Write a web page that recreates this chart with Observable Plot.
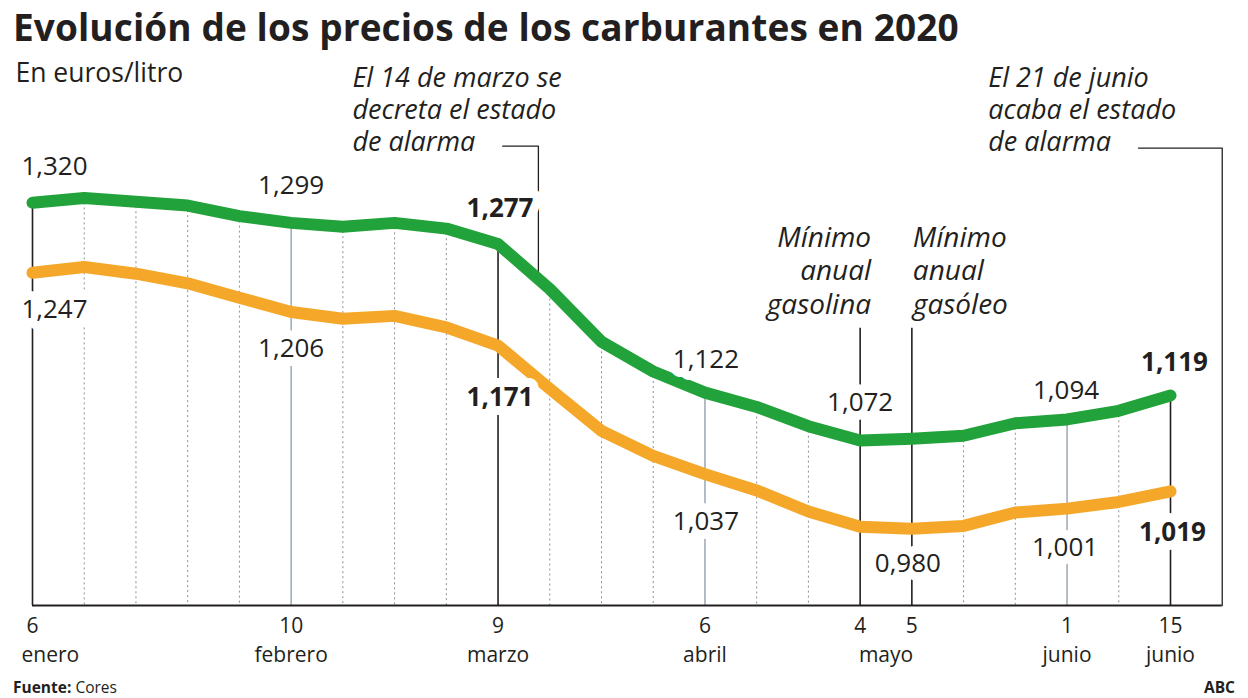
<!DOCTYPE html>
<html><head><meta charset="utf-8">
<script src="https://cdn.jsdelivr.net/npm/d3@7"></script>
<script src="https://cdn.jsdelivr.net/npm/@observablehq/plot@0.6"></script>
<style>
body{margin:0;background:#fff;font-family:"Open Sans",sans-serif;color:#231f20;width:1248px;height:698px;overflow:hidden}
#title{height:50px;line-height:54px;padding-left:13px;font-weight:700;font-size:37px;white-space:nowrap;letter-spacing:0.1px}
#chart svg{display:block}
#foot{position:relative;height:23px;font-size:15.5px}
#foot .l{position:absolute;left:13px;top:1px}
#foot .r{position:absolute;right:13px;top:1px;font-weight:700}
</style></head><body>
<div id="title">Evolución de los precios de los carburantes en 2020</div>
<div id="chart"></div>
<div id="foot"><span class="l"><b>Fuente:</b> Cores</span><span class="r">ABC</span></div>
<script>
// Semanas (índice de observación semanal, 6 enero – 15 junio 2020)
const semanas = [0,1,2,3,4,5,6,7,8,9,10,11,12,13,14,15,16,17,18,19,20,21,22];
const gasolina = [1.320,1.325,1.321,1.317,1.306,1.299,1.295,1.299,1.293,1.277,1.230,1.175,1.144,1.122,1.107,1.087,1.072,1.074,1.077,1.090,1.094,1.103,1.119];
const gasoleo  = [1.247,1.253,1.246,1.236,1.221,1.206,1.199,1.202,1.190,1.171,1.126,1.082,1.056,1.037,1.020,0.998,0.982,0.980,0.983,0.997,1.001,1.008,1.019];
const tickIdx  = [0,5,9,13,16,17,20,22];
const tickDias = ["6","10","9","6","4","5","1","15"];
const mesesPos = [0,5,9,13,16.5,20,22];
const meses    = ["enero","febrero","marzo","abril","mayo","junio","junio"];
const lineasNegras = [0,9,16,17,22];
const lineasGrises = [5,13,20];

const VERDE = "#22a23a", NARANJA = "#f5a72a", TXT = "#231f20", GRIS = "#a3adb7";
const yMin = 0.9;
const fmt = v => d3.format(".3f")(v).replace(".", ",");

// annotation anchors (layout)
const xMarzo14 = 9.78, xJunio21 = 23, yConector = 1.379, yMinimoTop = 1.189;
const greenAt = x => { const i = Math.floor(x); return gasolina[i] + (x - i) * (gasolina[i+1] - gasolina[i]); };

const verde = semanas.map(i => ({i, v: gasolina[i]}));
const naranja = semanas.map(i => ({i, v: gasoleo[i]}));

const punteadas = semanas.filter(i => !tickIdx.includes(i)).map(i => ({i, top: gasolina[i]}));
const negras = lineasNegras.map(i => ({i, top: (i === 16 || i === 17) ? yMinimoTop : gasolina[i]}));
const grises = lineasGrises.map(i => ({i, top: gasolina[i]}));

// value labels: index, series, offsets (style)
const etiquetas = [
  {i:0,  s:"g", dx:22, dy:-36, b:false},
  {i:0,  s:"o", dx:22, dy:37,  b:false},
  {i:5,  s:"g", dx:0,  dy:-37, b:false},
  {i:5,  s:"o", dx:0,  dy:37,  b:false},
  {i:9,  s:"g", dx:2,  dy:-35, b:true},
  {i:9,  s:"o", dx:2,  dy:52,  b:true},
  {i:13, s:"g", dx:1,  dy:-33, b:false},
  {i:13, s:"o", dx:1,  dy:48,  b:false},
  {i:16, s:"g", dx:0,  dy:-38, b:false},
  {i:17, s:"o", dx:-4, dy:35,  b:false},
  {i:20, s:"g", dx:-1, dy:-29, b:false},
  {i:20, s:"o", dx:-2, dy:39,  b:false},
  {i:22, s:"g", dx:4,  dy:-33, b:true},
  {i:22, s:"o", dx:2,  dy:41,  b:true}
].map(d => ({...d, v: d.s === "g" ? gasolina[d.i] : gasoleo[d.i]}));

const etiquetaMark = (bold) => etiquetas.filter(d => d.b === bold).map(d =>
  Plot.text([d], {x: "i", y: "v", text: e => fmt(e.v), dx: d.dx, dy: d.dy,
    fontSize: 26, fontWeight: bold ? 700 : 400, fill: TXT,
    stroke: "white", strokeWidth: 18, paintOrder: "stroke", lineAnchor: "middle"}));

const mesesData = meses.map((m, k) => ({x: mesesPos[k], m}));

const H = 625, baseY = 555;
const chart = Plot.plot({
  width: 1248, height: H,
  marginLeft: 32, marginRight: 78, marginTop: 0, marginBottom: H - baseY,
  style: {fontFamily: "'Open Sans', sans-serif", color: TXT, background: "#fff"},
  x: {domain: [0, 22], axis: null},
  y: {domain: [yMin, yMin + baseY / 959], axis: null},
  marks: [
    Plot.ruleX(punteadas, {x: "i", y1: "top", y2: yMin, stroke: "#8a8f94", strokeWidth: 1, strokeDasharray: "2,3"}),
    Plot.ruleX(grises, {x: "i", y1: "top", y2: yMin, stroke: GRIS, strokeWidth: 1.6}),
    Plot.ruleX(negras, {x: "i", y1: "top", y2: yMin, stroke: TXT, strokeWidth: 1.6}),
    Plot.line([{x: 9.09, y: yConector}, {x: xMarzo14, y: yConector}, {x: xMarzo14, y: greenAt(xMarzo14)}],
      {x: "x", y: "y", stroke: TXT, strokeWidth: 1.3}),
    Plot.line([{x: 21.38, y: yConector - 0.002}, {x: xJunio21, y: yConector - 0.002}, {x: xJunio21, y: yMin}],
      {x: "x", y: "y", stroke: TXT, strokeWidth: 1.3}),
    Plot.ruleY([yMin], {x1: 0, x2: xJunio21, stroke: TXT, strokeWidth: 2.2}),
    Plot.line(naranja, {x: "i", y: "v", stroke: NARANJA, strokeWidth: 12, strokeLinejoin: "round", strokeLinecap: "round"}),
    Plot.line(verde, {x: "i", y: "v", stroke: VERDE, strokeWidth: 12, strokeLinejoin: "round", strokeLinecap: "round"}),
    ...etiquetaMark(false),
    ...etiquetaMark(true),
    Plot.axisX(tickIdx, {tickSize: 0, tickPadding: 13, fontSize: 21, tickFormat: i => tickDias[tickIdx.indexOf(i)], fill: TXT}),
    Plot.text(mesesData.slice(0, 1), {x: "x", y: yMin, text: "m", dx: -11, dy: 50, textAnchor: "start", fontSize: 21, fill: TXT, lineAnchor: "middle"}),
    Plot.text(mesesData.slice(1), {x: "x", y: yMin, text: "m", dy: 50, fontSize: 21, fill: TXT, lineAnchor: "middle"}),
    Plot.text(["En euros/litro"], {frameAnchor: "top-left", dx: -17, dy: 13, lineAnchor: "top", fontSize: 26.5, fill: TXT}),
    Plot.text(["El 14 de marzo se\ndecreta el estado\nde alarma"], {x: xMarzo14, frameAnchor: "top", textAnchor: "start", lineAnchor: "top",
      dx: -186, dy: 13, fontSize: 27, fontStyle: "italic", lineHeight: 1.2, fill: TXT}),
    Plot.text(["El 21 de junio\nacaba el estado\nde alarma"], {x: xJunio21, frameAnchor: "top", textAnchor: "start", lineAnchor: "top",
      dx: -234, dy: 13, fontSize: 27, fontStyle: "italic", lineHeight: 1.2, fill: TXT}),
    Plot.text(["Mínimo\nanual\ngasolina"], {x: 16, frameAnchor: "top", textAnchor: "end", lineAnchor: "top",
      dx: 11, dy: 172, fontSize: 28, fontStyle: "italic", lineHeight: 1.21, fill: TXT}),
    Plot.text(["Mínimo\nanual\ngasóleo"], {x: 17, frameAnchor: "top", textAnchor: "start", lineAnchor: "top",
      dx: 1, dy: 172, fontSize: 28, fontStyle: "italic", lineHeight: 1.21, fill: TXT})
  ]
});
document.getElementById("chart").appendChild(chart);
</script>
</body></html>
